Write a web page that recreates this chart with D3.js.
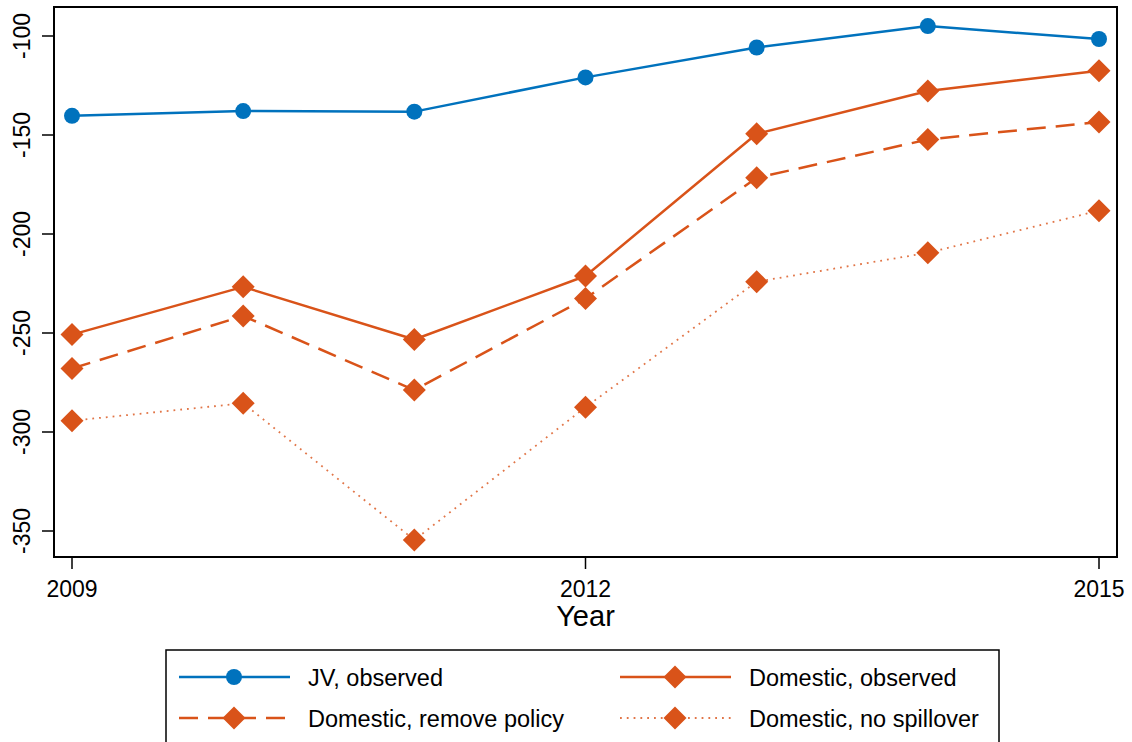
<!DOCTYPE html>
<html>
<head>
<meta charset="utf-8">
<script src="https://cdn.jsdelivr.net/npm/d3@7"></script>
<style>
  html, body { margin: 0; padding: 0; background: #fff; }
  svg { display: block; font-family: "Liberation Sans", Arial, Helvetica, sans-serif; }
</style>
</head>
<body>
<svg id="chart" width="1132" height="742"></svg>
<script>
// Years on the x axis
const years = [2009, 2010, 2011, 2012, 2013, 2014, 2015];

// Series values
const jvObserved        = [-140.3, -137.9, -138.2, -120.9, -105.8, -95.0, -101.5];
const domesticObserved  = [-250.8, -226.7, -253.3, -221.2, -149.4, -127.8, -117.5];
const domesticNoPolicy  = [-267.9, -241.4, -278.8, -232.6, -171.6, -152.3, -143.4];
const domesticNoSpill   = [-294.3, -285.5, -354.5, -287.5, -224.1, -209.5, -188.2];

// Axis ticks
const xTicks = [2009, 2012, 2015];
const yTicks = [-100, -150, -200, -250, -300, -350];

const seriesNames = ["JV, observed", "Domestic, observed", "Domestic, remove policy", "Domestic, no spillover"];

const BLUE = "#0072BD";
const ORANGE = "#D95319";

const series = [
  { name: seriesNames[0], values: jvObserved,       color: BLUE,   marker: "circle",  dash: null,    width: 2.5, opacity: 1 },
  { name: seriesNames[1], values: domesticObserved, color: ORANGE, marker: "diamond", dash: null,    width: 2.5, opacity: 1 },
  { name: seriesNames[2], values: domesticNoPolicy, color: ORANGE, marker: "diamond", dash: "19,10", width: 2.5, opacity: 1 },
  { name: seriesNames[3], values: domesticNoSpill,  color: ORANGE, marker: "diamond", dash: "1.8,5", width: 1.8, opacity: 0.8 }
];

const svg = d3.select("#chart");

// Plot frame
const frame = { left: 54, right: 1117, top: 7, bottom: 557 };

const x = d3.scaleLinear().domain([2009, 2015]).range([72, 1099]);
const y = d3.scaleLinear().domain([-350, -100]).range([531, 36]);

// Data lines
const line = d3.line().x((d, i) => x(years[i])).y(d => y(d));

const plot = svg.append("g");
series.forEach(s => {
  plot.append("path")
    .datum(s.values)
    .attr("d", line)
    .attr("fill", "none")
    .attr("stroke", s.color)
    .attr("stroke-width", s.width)
    .attr("stroke-opacity", s.opacity)
    .attr("stroke-dasharray", s.dash)
    .attr("stroke-linejoin", "round");
});

// Markers
const diamond = r => `M0,${-r}L${r},0L0,${r}L${-r},0Z`;
function drawMarker(g, s, cx, cy) {
  if (s.marker === "circle") {
    g.append("circle").attr("cx", cx).attr("cy", cy).attr("r", 8).attr("fill", s.color);
  } else {
    g.append("path").attr("d", diamond(11.5)).attr("transform", `translate(${cx},${cy})`).attr("fill", s.color);
  }
}
series.forEach(s => {
  s.values.forEach((v, i) => drawMarker(plot, s, x(years[i]), y(v)));
});

// Frame
svg.append("rect")
  .attr("x", frame.left).attr("y", frame.top)
  .attr("width", frame.right - frame.left).attr("height", frame.bottom - frame.top)
  .attr("fill", "none").attr("stroke", "#000").attr("stroke-width", 2);

// Y axis ticks and rotated labels
const yAxis = svg.append("g");
yTicks.forEach(t => {
  yAxis.append("line")
    .attr("x1", frame.left - 12).attr("x2", frame.left)
    .attr("y1", y(t)).attr("y2", y(t))
    .attr("stroke", "#000").attr("stroke-width", 1.5);
  yAxis.append("text")
    .attr("transform", `translate(30,${y(t)}) rotate(-90)`)
    .attr("text-anchor", "middle")
    .attr("font-size", 23)
    .attr("fill", "#000")
    .text(t);
});

// X axis ticks and labels
const xAxis = svg.append("g");
xTicks.forEach(t => {
  xAxis.append("line")
    .attr("x1", x(t)).attr("x2", x(t))
    .attr("y1", frame.bottom).attr("y2", frame.bottom + 12)
    .attr("stroke", "#000").attr("stroke-width", 1.5);
  xAxis.append("text")
    .attr("x", x(t)).attr("y", 597)
    .attr("text-anchor", "middle")
    .attr("font-size", 23)
    .attr("fill", "#000")
    .text(t);
});

svg.append("text")
  .attr("x", (x(2009) + x(2015)) / 2).attr("y", 626)
  .attr("text-anchor", "middle")
  .attr("font-size", 29)
  .attr("fill", "#000")
  .text("Year");

// Legend
const legend = svg.append("g");
legend.append("rect")
  .attr("x", 166).attr("y", 650)
  .attr("width", 833).attr("height", 110)
  .attr("fill", "#fff").attr("stroke", "#000").attr("stroke-width", 1.5);

const legendPos = [
  { x: 179, y: 677 }, { x: 620, y: 677 },
  { x: 179, y: 718 }, { x: 620, y: 718 }
];
series.forEach((s, i) => {
  const p = legendPos[i];
  legend.append("line")
    .attr("x1", p.x).attr("x2", p.x + 111)
    .attr("y1", p.y).attr("y2", p.y)
    .attr("stroke", s.color)
    .attr("stroke-width", s.width)
    .attr("stroke-opacity", s.opacity)
    .attr("stroke-dasharray", s.dash);
  drawMarker(legend, s, p.x + 55, p.y);
  legend.append("text")
    .attr("x", p.x + 129).attr("y", p.y + 8.5)
    .attr("font-size", 23.5)
    .attr("fill", "#000")
    .text(s.name);
});
</script>
</body>
</html>
